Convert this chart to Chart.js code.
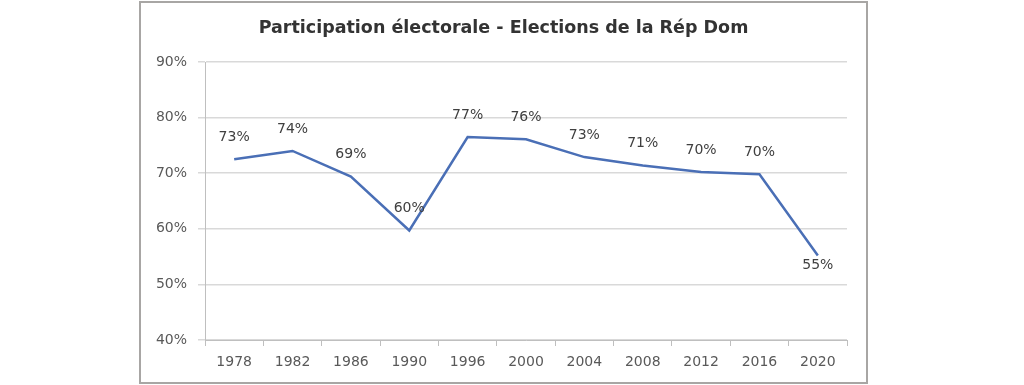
<!DOCTYPE html>
<html>
<head>
<meta charset="utf-8">
<script src="https://cdn.jsdelivr.net/npm/chart.js@4/dist/chart.umd.min.js"></script>
<style>
    html, body { margin: 0; padding: 0; background: #ffffff; }
    body { width: 1024px; height: 385px; position: relative; overflow: hidden; }
    #box {
        position: absolute; left: 139px; top: 1px;
        width: 729px; height: 383px;
        box-sizing: border-box;
        border: 2px solid #a8a6a4;
        background: #ffffff;
    }
    #wrap { position: relative; width: 725px; height: 379px; }
</style>
</head>
<body>
<div id="box"><div id="wrap"><canvas id="turnoutChart"></canvas></div></div>
<script>
const years = ['1978', '1982', '1986', '1990', '1996', '2000', '2004', '2008', '2012', '2016', '2020'];
const turnout = [72.5, 74.0, 69.4, 59.7, 76.5, 76.1, 72.9, 71.4, 70.2, 69.8, 55.2];
const turnoutLabels = ['73%', '74%', '69%', '60%', '77%', '76%', '73%', '71%', '70%', '70%', '55%'];
const yTicks = [40, 50, 60, 70, 80, 90];
const chartTitle = 'Participation électorale - Elections de la Rép Dom';

const textFont = 'DejaVu Sans';

// title centred on the whole box, plus the value labels above each point (the last one sits under it)
const textLayer = {
    id: 'textLayer',
    afterDatasetsDraw(chart) {
        const ctx = chart.ctx;
        const meta = chart.getDatasetMeta(0);
        ctx.save();
        ctx.textAlign = 'center';
        ctx.textBaseline = 'middle';

        ctx.font = 'bold 17.5px "' + textFont + '"';
        ctx.fillStyle = '#333333';
        ctx.fillText(chartTitle, chart.width / 2, 25);

        ctx.font = '14px "' + textFont + '"';
        ctx.fillStyle = '#404040';
        meta.data.forEach(function(pt, i) {
            const below = i === turnoutLabels.length - 1;
            ctx.fillText(turnoutLabels[i], pt.x, below ? pt.y + 10 : pt.y - 22);
        });
        ctx.restore();
    }
};

const ctx = document.getElementById('turnoutChart').getContext('2d');
new Chart(ctx, {
    type: 'line',
    data: {
        labels: years,
        datasets: [{
            label: 'Participation',
            data: turnout,
            borderColor: '#4a6fb6',
            borderWidth: 2.5,
            pointRadius: 0,
            tension: 0,
            fill: false
        }]
    },
    options: {
        responsive: true,
        maintainAspectRatio: false,
        animation: false,
        layout: { padding: { left: 0, right: 19, top: 59, bottom: 0 } },
        plugins: {
            legend: { display: false },
            tooltip: { enabled: false },
            title: { display: false }
        },
        scales: {
            x: {
                offset: true,
                grid: { offset: true, drawOnChartArea: false, tickLength: 6, color: '#bfbfbf' },
                border: { color: '#bfbfbf' },
                ticks: {
                    color: '#595959',
                    font: { family: textFont, size: 14 },
                    padding: 8,
                    maxRotation: 0,
                    autoSkip: false
                },
                afterFit: function(s) { s.height = 42; }
            },
            y: {
                min: 40,
                max: 90,
                afterBuildTicks: function(s) { s.ticks = yTicks.map(v => ({ value: v })); },
                grid: { color: '#d9d9d9', lineWidth: 1.5, tickLength: 7 },
                border: { color: '#bfbfbf' },
                ticks: {
                    color: '#595959',
                    font: { family: textFont, size: 14 },
                    padding: 11,
                    callback: function(v) { return v + '%'; }
                },
                afterFit: function(s) { s.width = 64; }
            }
        }
    },
    plugins: [textLayer]
});
</script>
</body>
</html>
